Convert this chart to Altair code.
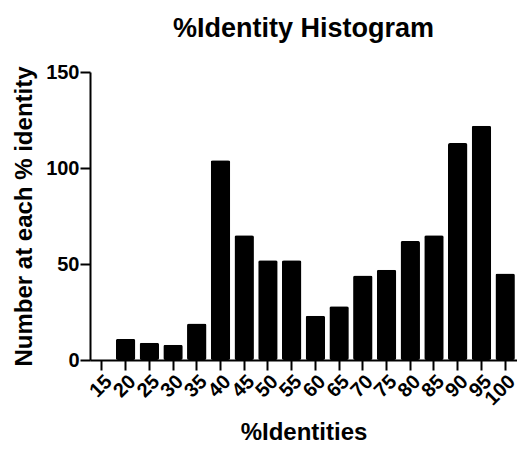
import altair as alt
import pandas as pd

identity = ["15", "20", "25", "30", "35", "40", "45", "50", "55", "60",
            "65", "70", "75", "80", "85", "90", "95", "100"]
counts = [0, 11, 9, 8, 19, 104, 65, 52, 52, 23, 28, 44, 47, 62, 65, 113, 122, 45]

df = pd.DataFrame({"identity": identity, "count": counts})

FONT = "Liberation Sans"

chart = alt.Chart(df).mark_bar(color="black", cornerRadius=2).encode(
    x=alt.X("identity:N", sort=identity, title="%Identities",
            scale=alt.Scale(paddingInner=0.18, paddingOuter=0.09),
            axis=alt.Axis(labelAngle=-45, labelFontSize=20, labelFontWeight="bold",
                          titleFontSize=24, titleFontWeight="bold", titlePadding=12,
                          tickSize=10, tickWidth=2, domainWidth=2, labelPadding=1,
                          domainColor="black", tickColor="black", labelColor="black",
                          titleColor="black", labelFont=FONT, titleFont=FONT)),
    y=alt.Y("count:Q", title="Number at each % identity",
            scale=alt.Scale(domain=[0, 150]),
            axis=alt.Axis(values=[0, 50, 100, 150], grid=False, labelFontSize=20,
                          labelFontWeight="bold", titleFontSize=24, titleFontWeight="bold",
                          titlePadding=9, tickSize=10, tickWidth=2, domainWidth=2,
                          labelPadding=1, domainColor="black", tickColor="black",
                          labelColor="black", titleColor="black", labelFont=FONT,
                          titleFont=FONT)),
).properties(
    width=427,
    height=288,
    title=alt.TitleParams("%Identity Histogram", fontSize=27, fontWeight="bold",
                          font=FONT, color="black", offset=19, anchor="middle"),
    autosize=alt.AutoSizeParams(type="none"),
    padding={"left": 82, "top": 64, "right": 0, "bottom": 82},
).configure_view(stroke=None).configure_axis(grid=False)

chart.save("out.html", embed_options={"renderer": "svg", "actions": False})
